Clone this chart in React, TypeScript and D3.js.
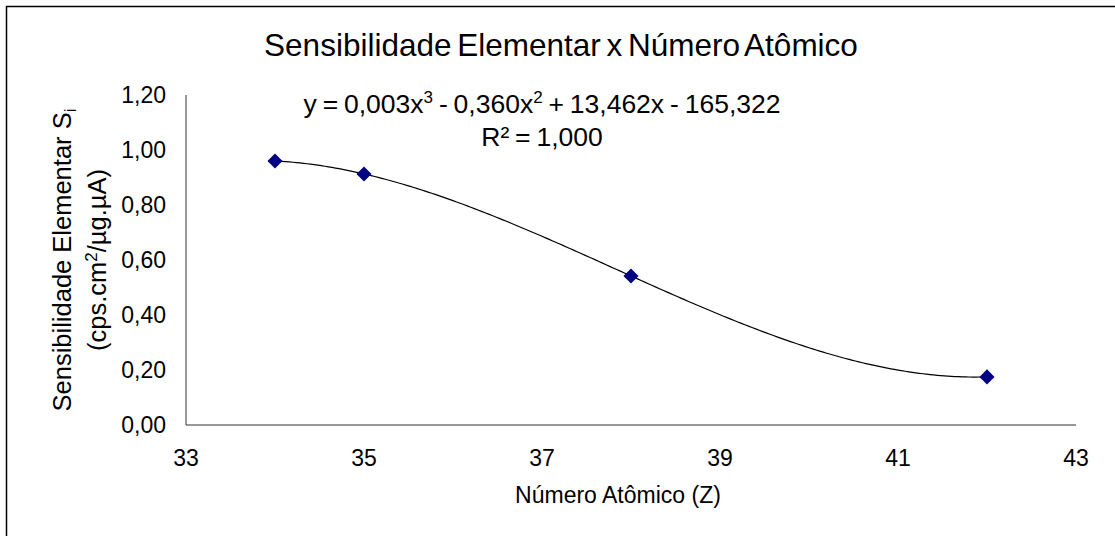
import React from "react";
import * as d3 from "d3";

// Atomic number (Z) and elemental sensitivity S_i
const atomicNumbers = [34, 35, 38, 42];
const sensitivities = [0.96, 0.913, 0.542, 0.175];

const xTicks = [33, 35, 37, 39, 41, 43];
const yTicks = [0, 0.2, 0.4, 0.6, 0.8, 1.0, 1.2];

const title = "Sensibilidade Elementar x Número Atômico";
const xLabel = "Número Atômico (Z)";
const r2Text = "R² = 1,000";

const W = 1115;
const H = 536;
const FONT = "'Liberation Sans', Arial, sans-serif";

// Cubic through the four points (exact polynomial fit, R² = 1)
function cubicAt(x: number): number {
  let sum = 0;
  for (let i = 0; i < atomicNumbers.length; i++) {
    let term = sensitivities[i];
    for (let j = 0; j < atomicNumbers.length; j++) {
      if (j !== i) term *= (x - atomicNumbers[j]) / (atomicNumbers[i] - atomicNumbers[j]);
    }
    sum += term;
  }
  return sum;
}

const fmt = (v: number) => v.toFixed(2).replace(".", ",");

export default function App() {
  const x = d3.scaleLinear().domain([33, 43]).range([186, 1076]);
  const y = d3.scaleLinear().domain([0, 1.2]).range([425, 95]);

  const xMin = d3.min(atomicNumbers) as number;
  const xMax = d3.max(atomicNumbers) as number;
  const trend = d3.range(0, 201).map((i) => {
    const xv = xMin + ((xMax - xMin) * i) / 200;
    return [xv, cubicAt(xv)] as [number, number];
  });
  const line = d3
    .line<[number, number]>()
    .x((d) => x(d[0]))
    .y((d) => y(d[1]));

  const diamond = d3.symbol().type(d3.symbolDiamond2).size(145)();

  return (
    <svg
      width={W}
      height={H}
      style={{ position: "absolute", left: 0, top: 0, display: "block", background: "#fff" }}
      fontFamily={FONT}
    >
      <rect x={6.5} y={6.5} width={1200} height={600} fill="#fff" stroke="#000" strokeWidth={1.5} />

      <text x={561} y={56} textAnchor="middle" fontSize={31.5} wordSpacing={-3} fill="#000">
        {title}
      </text>

      {/* axes */}
      <line x1={x(33)} x2={x(33)} y1={y(1.2)} y2={y(0)} stroke="#333" strokeWidth={1} />
      <line x1={x(33)} x2={x(43)} y1={y(0)} y2={y(0)} stroke="#333" strokeWidth={1} />

      {yTicks.map((t) => (
        <text key={t} x={166} y={y(t) + 8} textAnchor="end" fontSize={23} fill="#000">
          {fmt(t)}
        </text>
      ))}
      {xTicks.map((t) => (
        <text key={t} x={x(t)} y={466} textAnchor="middle" fontSize={23} fill="#000">
          {t}
        </text>
      ))}

      <text x={618} y={503} textAnchor="middle" fontSize={23} fill="#000">
        {xLabel}
      </text>

      <g transform="translate(71,260) rotate(-90)">
        <text x={0} y={0} textAnchor="middle" fontSize={25.5} fill="#000">
          Sensibilidade Elementar S
          <tspan fontSize={17} dy={5}>i</tspan>
        </text>
        <text x={0} y={35} textAnchor="middle" fontSize={25.5} fill="#000">
          (cps.cm<tspan fontSize={17} dy={-9}>2</tspan>
          <tspan dy={9}>/µg.µA)</tspan>
        </text>
      </g>

      <path d={line(trend) ?? ""} fill="none" stroke="#000" strokeWidth={1.2} />

      {atomicNumbers.map((z, i) => (
        <path
          key={z}
          d={diamond ?? ""}
          transform={`translate(${x(z)},${y(sensitivities[i])})`}
          fill="#000080"
        />
      ))}

      <text x={542} y={113} textAnchor="middle" fontSize={26.5} wordSpacing={-1.5} fill="#000">
        y = 0,003x<tspan fontSize={17} dy={-10}>3</tspan>
        <tspan dy={10}> - 0,360x</tspan>
        <tspan fontSize={17} dy={-10}>2</tspan>
        <tspan dy={10}> + 13,462x - 165,322</tspan>
      </text>
      <text x={542} y={146} textAnchor="middle" fontSize={26.5} wordSpacing={-1.5} fill="#000">
        {r2Text}
      </text>
    </svg>
  );
}
